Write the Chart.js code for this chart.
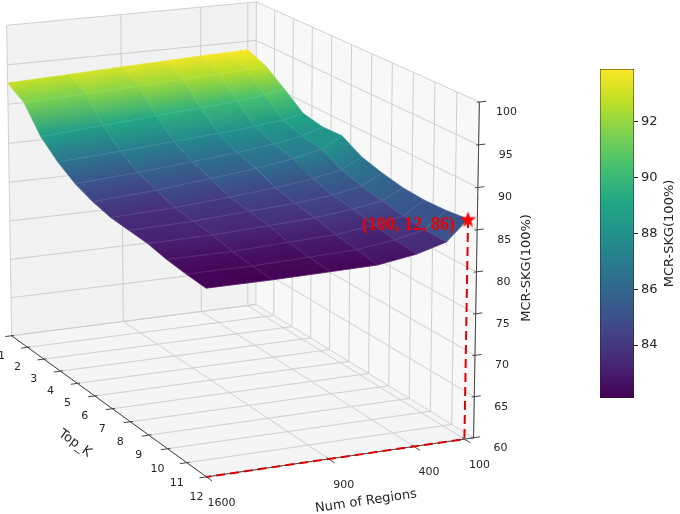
<!DOCTYPE html>
<html>
<head>
<meta charset="utf-8">
<script src="https://cdn.jsdelivr.net/npm/chart.js@4.4.1/dist/chart.umd.min.js"></script>
<style>
  html, body { margin: 0; padding: 0; background: #fff; }
  #wrap { position: relative; width: 680px; height: 514px; }
  #main { position: absolute; left: 0; top: 0; }
  #cbar { position: absolute; left: 560px; top: 40px; }
</style>
</head>
<body>
<div id="wrap">
  <canvas id="main" width="680" height="514"></canvas>
  <canvas id="cbar" width="120" height="400"></canvas>
</div>
<script>
// data
const topK = [1, 2, 3, 4, 5, 6, 7, 8, 9, 10, 11, 12];
const regions = [100, 225, 400, 625, 900, 1225, 1600];
// MCR-SKG(%), one row per Top_K, columns follow `regions`
const mcr = [
    [93.9, 93.8, 93.7, 93.5, 93.3, 93.0, 92.7],
    [92.9, 92.7, 92.5, 92.3, 92.0, 91.7, 91.4],
    [91.1, 90.6, 90.2, 89.8, 89.4, 88.9, 88.3],
    [89.2, 88.6, 88.2, 87.8, 87.4, 86.9, 86.4],
    [88.7, 87.8, 87.2, 86.6, 86.1, 85.5, 85.0],
    [88.8, 87.4, 86.6, 85.9, 85.3, 84.6, 84.1],
    [87.4, 86.1, 85.4, 84.8, 84.3, 83.8, 83.5],
    [86.7, 85.4, 84.7, 84.2, 83.9, 83.5, 83.3],
    [86.2, 84.9, 84.3, 83.8, 83.5, 83.2, 83.1],
    [86.0, 84.4, 83.7, 83.1, 82.9, 82.6, 82.6],
    [86.1, 84.1, 83.3, 82.7, 82.5, 82.3, 82.3],
    [86.4, 84.0, 83.0, 82.3, 82.2, 82.1, 82.1]
];
const regionTicks = [100, 400, 900, 1600];
const zTicks = [60, 65, 70, 75, 80, 85, 90, 95, 100];
const cbarTicks = [84, 86, 88, 90, 92];
const best = { regions: regions[0], topK: topK[topK.length - 1], value: mcr[topK.length - 1][0] };

const allValues = mcr.flat();
const zMin = Math.min(...allValues);
const zMax = Math.max(...allValues);

// camera
const view = { elev: 15.3, azim: 65.6, dist: 15.44, half: [0.562, 1, 0.669], rMin: 45 };
const frame = { px: 259, cx: 230, cy: 224, w: 680, h: 514 };
const FONT = '"DejaVu Sans", sans-serif';

const rad = Math.PI / 180;
const ce = Math.cos(view.elev * rad), se = Math.sin(view.elev * rad);
const ca = Math.cos(view.azim * rad), sa = Math.sin(view.azim * rad);

const rLim = [view.rMin, regions[regions.length - 1]];
const kLim = [topK[0], topK[topK.length - 1]];
const zLim = [zTicks[0], zTicks[zTicks.length - 1]];

function norm(v, lim, h) {
    return -h + 2 * h * (v - lim[0]) / (lim[1] - lim[0]);
}

function project(r, k, z) {
    const X = norm(r, rLim, view.half[0]);
    const Y = norm(k, kLim, view.half[1]);
    const Z = norm(z, zLim, view.half[2]);
    const pr = -sa * X + ca * Y;
    const pu = -se * ca * X - se * sa * Y + ce * Z;
    const pv = ce * ca * X + ce * sa * Y + se * Z;
    const s = view.dist / (view.dist - pv);
    return { x: s * pr, y: s * pu, d: pv };
}

function segs(list) {
    const out = [];
    list.forEach(function (s) {
        out.push(project(...s[0]), project(...s[1]), { x: null, y: null });
    });
    return out;
}

// pane grid
const gridSegs = [];
topK.forEach(function (k) {
    gridSegs.push([[rLim[0], k, zLim[0]], [rLim[1], k, zLim[0]]]);
    gridSegs.push([[rLim[0], k, zLim[0]], [rLim[0], k, zLim[1]]]);
});
regionTicks.forEach(function (r) {
    gridSegs.push([[r, kLim[0], zLim[0]], [r, kLim[1], zLim[0]]]);
    gridSegs.push([[r, kLim[0], zLim[0]], [r, kLim[0], zLim[1]]]);
});
zTicks.forEach(function (z) {
    gridSegs.push([[rLim[0], kLim[0], z], [rLim[1], kLim[0], z]]);
    gridSegs.push([[rLim[0], kLim[0], z], [rLim[0], kLim[1], z]]);
});

// axis lines + tick marks
const tr = (rLim[1] - rLim[0]) * 0.025;
const tk = (kLim[1] - kLim[0]) * 0.025;
const axisSegs = [
    [[rLim[1], kLim[0], zLim[0]], [rLim[1], kLim[1], zLim[0]]],
    [[rLim[0], kLim[1], zLim[0]], [rLim[1], kLim[1], zLim[0]]],
    [[rLim[0], kLim[1], zLim[0]], [rLim[0], kLim[1], zLim[1]]]
];
topK.forEach(function (k) {
    axisSegs.push([[rLim[1] - tr * 0.4, k, zLim[0]], [rLim[1] + tr, k, zLim[0]]]);
});
regionTicks.forEach(function (r) {
    axisSegs.push([[r, kLim[1] - tk * 0.4, zLim[0]], [r, kLim[1] + tk, zLim[0]]]);
});
zTicks.forEach(function (z) {
    axisSegs.push([[rLim[0] + tr * 0.4, kLim[1], z], [rLim[0] - tr, kLim[1], z]]);
});

const bestPath = [
    project(best.regions, best.topK, best.value),
    project(best.regions, best.topK, zTicks[0]),
    project(regions[regions.length - 1], best.topK, zTicks[0])
];

const viridis = ['#440154', '#482475', '#414487', '#355f8d', '#2a788e', '#21918c',
                 '#22a884', '#44bf70', '#7ad151', '#bddf26', '#fde725'];
function hex(c) {
    return [parseInt(c.slice(1, 3), 16), parseInt(c.slice(3, 5), 16), parseInt(c.slice(5, 7), 16)];
}
function cmap(v) {
    let t = (v - zMin) / (zMax - zMin);
    t = Math.max(0, Math.min(1, t));
    const f = t * (viridis.length - 1);
    const i = Math.min(viridis.length - 2, Math.floor(f));
    const a = hex(viridis[i]), b = hex(viridis[i + 1]), u = f - i;
    return 'rgb(' + a.map((c, n) => Math.round(c + (b[n] - c) * u)).join(',') + ')';
}

function toPx(chart, p) {
    return { x: chart.scales.x.getPixelForValue(p.x), y: chart.scales.y.getPixelForValue(p.y), d: p.d };
}

function starImage(size, color) {
    const c = document.createElement('canvas');
    c.width = size;
    c.height = size;
    const g = c.getContext('2d');
    g.fillStyle = color;
    g.beginPath();
    for (let i = 0; i < 10; i++) {
        const rr = i % 2 ? size * 0.2 : size * 0.5;
        const a = -Math.PI / 2 + i * Math.PI / 5;
        g.lineTo(size / 2 + rr * Math.cos(a), size * 0.55 + rr * Math.sin(a));
    }
    g.closePath();
    g.fill();
    return c;
}

function drawPanes(chart) {
    const ctx = chart.ctx;
    const panes = [
        { c: '#f5f5f5', p: [[rLim[0], kLim[0], zLim[0]], [rLim[1], kLim[0], zLim[0]], [rLim[1], kLim[1], zLim[0]], [rLim[0], kLim[1], zLim[0]]] },
        { c: '#f2f2f2', p: [[rLim[0], kLim[0], zLim[0]], [rLim[1], kLim[0], zLim[0]], [rLim[1], kLim[0], zLim[1]], [rLim[0], kLim[0], zLim[1]]] },
        { c: '#f8f8f8', p: [[rLim[0], kLim[0], zLim[0]], [rLim[0], kLim[1], zLim[0]], [rLim[0], kLim[1], zLim[1]], [rLim[0], kLim[0], zLim[1]]] }
    ];
    ctx.save();
    panes.forEach(function (pane) {
        ctx.beginPath();
        pane.p.forEach(function (q, i) {
            const px = toPx(chart, project(...q));
            if (i === 0) ctx.moveTo(px.x, px.y); else ctx.lineTo(px.x, px.y);
        });
        ctx.closePath();
        ctx.fillStyle = pane.c;
        ctx.fill();
    });
    ctx.restore();
}

function drawSurface(chart) {
    const ctx = chart.ctx;
    const pts = mcr.map((row, i) => row.map((v, j) => {
        const p = toPx(chart, project(regions[j], topK[i], v));
        p.v = v;
        return p;
    }));
    const quads = [];
    for (let i = 0; i < topK.length - 1; i++) {
        for (let j = 0; j < regions.length - 1; j++) {
            const c = [pts[i][j], pts[i][j + 1], pts[i + 1][j + 1], pts[i + 1][j]];
            quads.push({ c: c, d: (c[0].d + c[1].d + c[2].d + c[3].d) / 4 });
        }
    }
    quads.sort((a, b) => a.d - b.d);
    ctx.save();
    quads.forEach(function (q) {
        const c = q.c;
        // shade across the Top_K direction, isolines parallel to the row edge
        const mT = { x: (c[0].x + c[1].x) / 2, y: (c[0].y + c[1].y) / 2 };
        const mB = { x: (c[3].x + c[2].x) / 2, y: (c[3].y + c[2].y) / 2 };
        const ex = c[1].x - c[0].x, ey = c[1].y - c[0].y;
        const len = Math.hypot(ex, ey) || 1;
        const nx = -ey / len, ny = ex / len;
        const dd = (mB.x - mT.x) * nx + (mB.y - mT.y) * ny;
        const g = ctx.createLinearGradient(mT.x, mT.y, mT.x + nx * dd, mT.y + ny * dd);
        g.addColorStop(0, cmap((c[0].v + c[1].v) / 2));
        g.addColorStop(1, cmap((c[3].v + c[2].v) / 2));
        ctx.beginPath();
        ctx.moveTo(c[0].x, c[0].y);
        for (let n = 1; n < 4; n++) ctx.lineTo(c[n].x, c[n].y);
        ctx.closePath();
        ctx.fillStyle = g;
        ctx.fill();
        ctx.strokeStyle = g;
        ctx.lineWidth = 0.8;
        ctx.stroke();
        ctx.strokeStyle = 'rgba(255,255,255,0.14)';
        ctx.lineWidth = 0.6;
        ctx.stroke();
    });
    ctx.restore();
}

function text(ctx, str, x, y, opt) {
    ctx.save();
    ctx.translate(x, y);
    ctx.rotate(opt.rot || 0);
    ctx.font = opt.font;
    ctx.fillStyle = opt.color || '#262626';
    ctx.textAlign = opt.align || 'center';
    ctx.textBaseline = 'middle';
    ctx.fillText(str, 0, 0);
    ctx.restore();
}

function drawLabels(chart) {
    const ctx = chart.ctx;
    const P = (r, k, z) => toPx(chart, project(r, k, z));
    const tickFont = '11px ' + FONT;
    const titleFont = '13px ' + FONT;

    topK.forEach(function (k) {
        const p = P(rLim[1], k, zLim[0]);
        text(ctx, String(k), p.x - 10, p.y + 20, { font: tickFont });
    });
    regionTicks.forEach(function (r) {
        const p = P(r, kLim[1], zLim[0]);
        text(ctx, String(r), p.x + 15, p.y + 26, { font: tickFont });
    });
    zTicks.forEach(function (z) {
        const p = P(rLim[0], kLim[1], z);
        text(ctx, String(z), p.x + 27, p.y + 10, { font: tickFont });
    });

    const a0 = P(rLim[1], kLim[0], zLim[0]), a1 = P(rLim[1], kLim[1], zLim[0]);
    text(ctx, 'Top_K', (a0.x + a1.x) / 2 - 34, (a0.y + a1.y) / 2 + 37,
         { font: titleFont, rot: Math.atan2(a1.y - a0.y, a1.x - a0.x) });
    const b0 = P(rLim[1], kLim[1], zLim[0]), b1 = P(rLim[0], kLim[1], zLim[0]);
    text(ctx, 'Num of Regions', (b0.x + b1.x) / 2 + 26, (b0.y + b1.y) / 2 + 44,
         { font: titleFont, rot: Math.atan2(b1.y - b0.y, b1.x - b0.x) });
    const c0 = P(rLim[0], kLim[1], zLim[0]), c1 = P(rLim[0], kLim[1], zLim[1]);
    text(ctx, 'MCR-SKG(100%)', (c0.x + c1.x) / 2 + 50, (c0.y + c1.y) / 2 - 2,
         { font: titleFont, rot: -Math.PI / 2 });

    const s = P(best.regions, best.topK, best.value);
    text(ctx, '(' + best.regions + ', ' + best.topK + ', ' + best.value.toFixed(0) + ')',
         s.x - 13, s.y + 6,
         { font: 'bold 18px "Liberation Serif", serif', color: '#ee0000', align: 'right' });
}

const scene = {
    id: 'scene',
    beforeDatasetsDraw(chart) {
        drawPanes(chart);
    },
    beforeDatasetDraw(chart, args) {
        if (chart.data.datasets[args.index].layer === 'dashed') {
            drawSurface(chart);
        }
    },
    afterDatasetsDraw(chart) {
        drawLabels(chart);
    }
};

new Chart(document.getElementById('main'), {
    type: 'scatter',
    data: {
        datasets: [
            { layer: 'grid', data: segs(gridSegs), showLine: true, borderColor: '#d0d0d0',
              borderWidth: 1, pointRadius: 0, order: 5, clip: false },
            { layer: 'axis', data: segs(axisSegs), showLine: true, borderColor: '#444444',
              borderWidth: 1, pointRadius: 0, order: 4, clip: false },
            { layer: 'dashed', data: bestPath, showLine: true, borderColor: '#dd0000',
              borderWidth: 2, borderDash: [9, 5], pointRadius: 0, order: 2, clip: false },
            { layer: 'star', data: [bestPath[0]], showLine: false, pointStyle: starImage(17, '#ff0000'),
              pointRadius: 8, order: 1, clip: false }
        ]
    },
    options: {
        responsive: false,
        animation: false,
        events: [],
        layout: { padding: 0 },
        plugins: { legend: { display: false }, tooltip: { enabled: false } },
        scales: {
            x: { type: 'linear', display: false, min: -frame.cx / frame.px, max: (frame.w - frame.cx) / frame.px },
            y: { type: 'linear', display: false, min: -(frame.h - frame.cy) / frame.px, max: frame.cy / frame.px }
        }
    },
    plugins: [scene]
});

// colour bar
const cbarLabel = {
    id: 'cbarLabel',
    afterDraw(chart) {
        const a = chart.chartArea;
        text(chart.ctx, 'MCR-SKG(100%)', a.right + 36, (a.top + a.bottom) / 2,
             { font: '13px ' + FONT, rot: -Math.PI / 2 });
    }
};

new Chart(document.getElementById('cbar'), {
    type: 'bar',
    data: {
        labels: [''],
        datasets: [{
            data: [[zMin, zMax]],
            backgroundColor: function (c) {
                const ch = c.chart;
                if (!ch.chartArea) return '#21918c';
                const y = ch.scales.y;
                const g = ch.ctx.createLinearGradient(0, y.getPixelForValue(zMin), 0, y.getPixelForValue(zMax));
                viridis.forEach((col, i) => g.addColorStop(i / (viridis.length - 1), col));
                return g;
            },
            borderColor: '#222',
            borderWidth: 0.8,
            borderSkipped: false,
            barPercentage: 1,
            categoryPercentage: 1
        }]
    },
    options: {
        responsive: false,
        animation: false,
        events: [],
        layout: { padding: { left: 40, top: 29, bottom: 42, right: 0 } },
        plugins: { legend: { display: false }, tooltip: { enabled: false } },
        scales: {
            x: { display: false },
            y: {
                position: 'right',
                min: zMin,
                max: zMax,
                afterBuildTicks(s) { s.ticks = cbarTicks.map(v => ({ value: v })); },
                afterFit(s) { s.width = 46; s.paddingTop = 0; s.paddingBottom = 0; },
                ticks: { padding: 3, color: '#262626', font: { family: FONT, size: 13 } },
                grid: { drawOnChartArea: false, drawTicks: true, tickLength: 4, color: '#262626' },
                border: { display: false }
            }
        }
    },
    plugins: [cbarLabel]
});
</script>
</body>
</html>
